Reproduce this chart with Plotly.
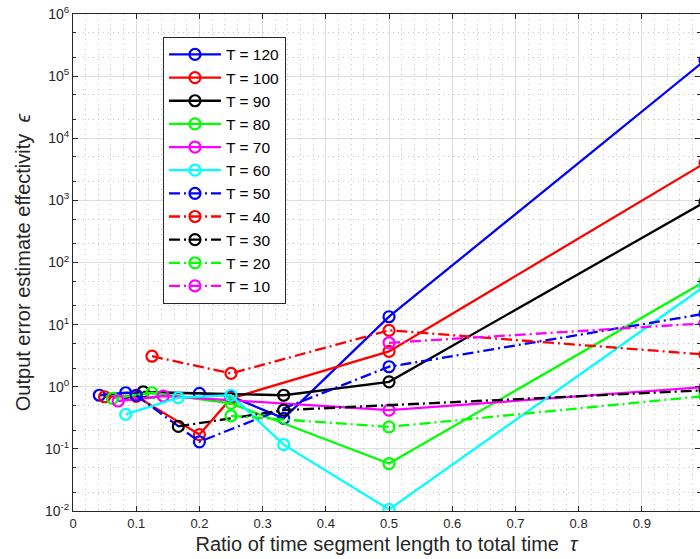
import plotly.graph_objects as go

# ---- data ----
labels = ["T = 120", "T = 100", "T = 90", "T = 80", "T = 70", "T = 60",
          "T = 50", "T = 40", "T = 30", "T = 20", "T = 10"]

x_T120 = [1/24, 1/12, 0.2, 0.25, 1/3, 0.5, 1.0]
y_T120 = [0.73, 0.80, 0.78, 0.70, 0.31, 13.4, 1.8e5]

x_T100 = [0.05, 0.1, 0.2, 0.25, 0.5, 1.0]
y_T100 = [0.69, 0.70, 0.17, 0.65, 3.7, 4000]

x_T90 = [1/9, 1/3, 0.5, 1.0]
y_T90 = [0.83, 0.73, 1.2, 940]

x_T80 = [0.0625, 0.125, 0.25, 0.5, 1.0]
y_T80 = [0.65, 0.80, 0.54, 0.058, 50]

x_T70 = [1/14, 1/7, 0.5, 1.0]
y_T70 = [0.59, 0.71, 0.42, 0.99]

x_T60 = [1/12, 1/6, 0.25, 1/3, 0.5, 1.0]
y_T60 = [0.36, 0.67, 0.73, 0.117, 0.0106, 42]

x_T50 = [0.1, 0.2, 0.5, 1.0]
y_T50 = [0.73, 0.13, 2.1, 15]

x_T40 = [0.125, 0.25, 0.5, 1.0]
y_T40 = [3.1, 1.64, 8.1, 3.3]

x_T30 = [1/6, 1/3, 1.0]
y_T30 = [0.23, 0.42, 0.88]

x_T20 = [0.25, 0.5, 1.0]
y_T20 = [0.34, 0.226, 0.71]

x_T10 = [0.5, 1.0]
y_T10 = [5.1, 10.5]

xs = [x_T120, x_T100, x_T90, x_T80, x_T70, x_T60, x_T50, x_T40, x_T30, x_T20, x_T10]
ys = [y_T120, y_T100, y_T90, y_T80, y_T70, y_T60, y_T50, y_T40, y_T30, y_T20, y_T10]
colors = ["#0000FF", "#FF0000", "#000000", "#00FF00", "#FF00FF", "#00FFFF",
          "#0000FF", "#FF0000", "#000000", "#00FF00", "#FF00FF"]
dashes = ["solid"] * 6 + ["11px,4px,2px,4px"] * 5

x_ticks = [0, 0.1, 0.2, 0.3, 0.4, 0.5, 0.6, 0.7, 0.8, 0.9, 1.0]
x_ticktext = ["0", "0.1", "0.2", "0.3", "0.4", "0.5", "0.6", "0.7", "0.8", "0.9", "1"]
y_ticks = [1e-2, 1e-1, 1e0, 1e1, 1e2, 1e3, 1e4, 1e5, 1e6]
y_ticktext = ["10<sup>-2</sup>", "10<sup>-1</sup>", "10<sup>0</sup>", "10<sup>1</sup>",
              "10<sup>2</sup>", "10<sup>3</sup>", "10<sup>4</sup>", "10<sup>5</sup>",
              "10<sup>6</sup>"]

FONT = "Liberation Sans, Arial, Helvetica, sans-serif"

fig = go.Figure()
for lab, x, y, c, d in zip(labels, xs, ys, colors, dashes):
    fig.add_trace(go.Scatter(
        x=x, y=y, name=lab, mode="lines+markers",
        line=dict(color=c, width=2.3, dash=d),
        marker=dict(symbol="circle-open", size=11, color=c,
                    line=dict(color=c, width=2.2)),
        cliponaxis=True,
    ))

fig.update_layout(
    width=700, height=559,
    margin=dict(l=73, r=0, t=14, b=48),
    paper_bgcolor="white", plot_bgcolor="white",
    font=dict(family=FONT, color="#262626"),
    showlegend=True,
    legend=dict(
        x=0.1435, y=0.954, xanchor="left", yanchor="top",
        bgcolor="white", bordercolor="#262626", borderwidth=1,
        font=dict(family=FONT, size=15.5, color="#000000"),
        tracegroupgap=0, itemwidth=52,
    ),
)

fig.update_xaxes(
    range=[0, 0.992], tickvals=x_ticks, ticktext=x_ticktext,
    ticks="inside", ticklen=5, tickcolor="#262626",
    showline=True, linecolor="#262626", linewidth=1, mirror="ticks",
    showgrid=True, gridcolor="#dedede", gridwidth=1,
    minor=dict(dtick=0.02, showgrid=True, gridcolor="#c8c8c8",
               griddash="1px,4px", gridwidth=1),
    tickfont=dict(size=13, color="#262626"),
    title=dict(text="Ratio of time segment length to total time  <i>τ</i>",
               font=dict(size=20, color="#262626"), standoff=7),
    automargin=False, zeroline=False,
)
fig.update_yaxes(
    type="log", range=[-2, 6], tickvals=y_ticks, ticktext=y_ticktext,
    ticks="inside", ticklen=5, tickcolor="#262626",
    showline=True, linecolor="#262626", linewidth=1, mirror="ticks",
    showgrid=True, gridcolor="#dedede", gridwidth=1,
    minor=dict(ticks="inside", ticklen=3, tickcolor="#262626",
               showgrid=True, gridcolor="#c8c8c8", griddash="1px,4px", gridwidth=1),
    tickfont=dict(size=14, color="#262626"),
    title=dict(text="Output error estimate effectivity  <i>ϵ</i>",
               font=dict(size=20, color="#262626"), standoff=8),
    automargin=False, zeroline=False,
)

fig.write_html("out.html", config={"displayModeBar": False},
               post_script="document.body.style.margin='0px';")
